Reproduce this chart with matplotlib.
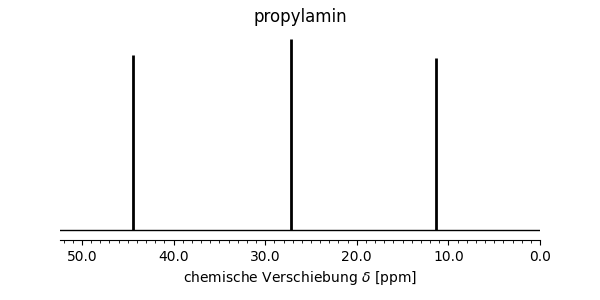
import matplotlib
matplotlib.use("Agg")
import matplotlib.pyplot as plt
from matplotlib.ticker import MultipleLocator, FormatStrFormatter

# 13C-Verschiebungen und relative Intensitaeten
shifts = [44.4, 27.2, 11.4]
intens = [0.916, 1.0, 0.90]

fig, ax = plt.subplots(figsize=(6, 3), dpi=100)
fig.subplots_adjust(left=0.1, right=0.9, bottom=0.2, top=0.88)

ax.vlines(shifts, 0, intens, colors="black", linewidth=2)
ax.axhline(0, color="black", linewidth=1)

ax.set_xlim(52.4, 0)
ax.set_ylim(-0.052, 1.016)
ax.xaxis.set_major_locator(MultipleLocator(10))
ax.xaxis.set_minor_locator(MultipleLocator(1))
ax.xaxis.set_major_formatter(FormatStrFormatter("%.1f"))
ax.set_yticks([])
for s in ["left", "right", "top"]:
    ax.spines[s].set_visible(False)

ax.set_title("propylamin", pad=10)
ax.set_xlabel(r"chemische Verschiebung $\delta$ [ppm]")

fig.savefig("out.png", dpi=100)
